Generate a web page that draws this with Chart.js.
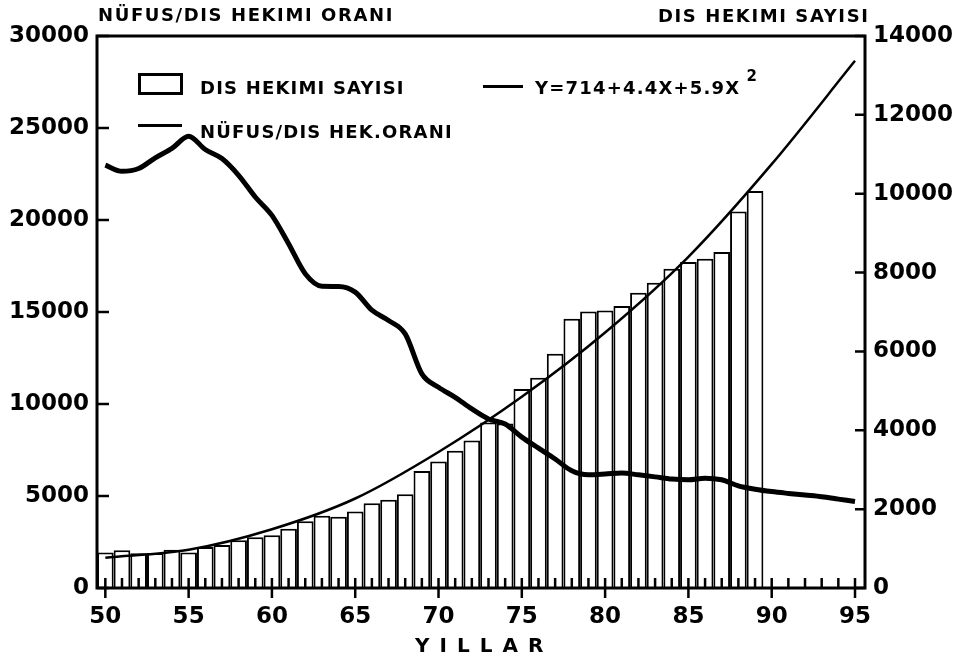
<!DOCTYPE html>
<html>
<head>
<meta charset="utf-8">
<script src="https://cdn.jsdelivr.net/npm/chart.js@4/dist/chart.umd.min.js"></script>
<style>
  html, body { margin: 0; padding: 0; background: #fff; }
  #wrap { position: relative; width: 965px; height: 661px; overflow: hidden; }
  #c { position: absolute; left: 0; top: 0; }
  .t { position: absolute; font-family: "DejaVu Sans", sans-serif; font-weight: bold; color: #000; line-height: 1; white-space: nowrap; }
  .lab { font-size: 18px; letter-spacing: 1.6px; }
  .box { position: absolute; border: 3px solid #000; box-sizing: border-box; background: #fff; }
  .ln { position: absolute; background: #000; height: 3px; }
</style>
</head>
<body>
<div id="wrap">
  <canvas id="c" width="965" height="661"></canvas>
  <div class="t lab" style="left:98px; top:6px;">NÜFUS/DIS HEKIMI ORANI</div>
  <div class="t lab" style="left:658px; top:7px;">DIS HEKIMI SAYISI</div>
  <div class="box" style="left:138px; top:73px; width:45px; height:22px;"></div>
  <div class="t lab" style="left:200px; top:79px; letter-spacing:1.2px;">DIS HEKIMI SAYISI</div>
  <div class="ln" style="left:138px; top:124px; width:44px;"></div>
  <div class="t lab" style="left:200px; top:123px; letter-spacing:1.2px;">NÜFUS/DIS HEK.ORANI</div>
  <div class="ln" style="left:483px; top:85px; width:40px;"></div>
  <div class="t lab" style="left:535px; top:79px; letter-spacing:1.2px;">Y=714+4.4X+5.9X<span style="font-size:15px; position:relative; top:-13px; margin-left:6px;">2</span></div>
  <div class="t" style="left:415px; top:635px; font-size:20px; letter-spacing:10px;">YILLAR</div>
</div>
<script>
// ---- data ----
const barYears = [50,51,52,53,54,55,56,57,58,59,60,61,62,63,64,65,66,67,68,69,70,71,72,73,74,75,76,77,78,79,80,81,82,83,84,85,86,87,88,89];
const dentistCounts = [900,960,880,890,970,900,1040,1090,1210,1290,1340,1500,1690,1830,1810,1940,2150,2240,2380,2970,3210,3480,3740,4200,4170,5050,5330,5940,6830,7010,7040,7150,7490,7740,8100,8270,8350,8520,9550,10070];
const ratioYears = [50,51,52,53,54,55,56,57,58,59,60,61,62,63,64,65,66,67,68,69,70,71,72,73,74,75,76,77,78,79,80,81,82,83,84,85,86,87,88,89,90,91,92,93,94,95];
const populationPerDentist = [22980,22650,22800,23380,23890,24550,23830,23340,22430,21250,20250,18710,17080,16400,16390,16080,15100,14540,13810,11640,10910,10360,9730,9190,8910,8200,7600,7010,6370,6150,6190,6250,6150,6040,5920,5880,5970,5880,5550,5370,5240,5140,5050,4960,4830,4700];
const fitYears = [50,55,60,65,70,75,80,85,90,95];
const fitValues = [770,970,1490,2270,3450,4850,6480,8400,10750,13370];
const xTickLabels = [50,55,60,65,70,75,80,85,90,95];
const minorTickYears = ratioYears;
const leftTicks = [0,5000,10000,15000,20000,25000,30000];
const rightTicks = [0,2000,4000,6000,8000,10000,12000,14000];

const tickFont = { family: "DejaVu Sans", weight: "bold", size: 23 };

const frameAndTicks = {
  id: 'frameAndTicks',
  afterDraw(chart) {
    const ctx = chart.ctx;
    const a = chart.chartArea;
    const sx = chart.scales.x, sl = chart.scales.yL, sr = chart.scales.yR;
    ctx.save();
    ctx.strokeStyle = '#000';
    ctx.lineWidth = 3;
    ctx.strokeRect(a.left, a.top, a.right - a.left, a.bottom - a.top);
    ctx.lineWidth = 2.5;
    ctx.beginPath();
    minorTickYears.forEach(v => {
      const px = sx.getPixelForValue(v);
      ctx.moveTo(px, a.bottom); ctx.lineTo(px, a.bottom - 10);
    });
    xTickLabels.forEach(v => {
      const px = sx.getPixelForValue(v);
      ctx.moveTo(px, a.bottom - 10); ctx.lineTo(px, a.bottom + 10);
    });
    leftTicks.forEach(v => {
      const py = sl.getPixelForValue(v);
      ctx.moveTo(a.left, py); ctx.lineTo(a.left + 12, py);
    });
    rightTicks.forEach(v => {
      const py = sr.getPixelForValue(v);
      ctx.moveTo(a.right, py); ctx.lineTo(a.right - 10, py);
    });
    ctx.stroke();
    ctx.restore();
  }
};

new Chart(document.getElementById('c'), {
  type: 'bar',
  data: {
    datasets: [
      {
        type: 'line',
        label: 'NÜFUS/DIS HEK.ORANI',
        data: ratioYears.map((x, i) => ({ x: x, y: populationPerDentist[i] })),
        yAxisID: 'yL',
        borderColor: '#000',
        borderWidth: 5,
        pointRadius: 0,
        cubicInterpolationMode: 'monotone',
        fill: false,
        order: 1
      },
      {
        type: 'line',
        label: 'Y=714+4.4X+5.9X²',
        data: fitYears.map((x, i) => ({ x: x, y: fitValues[i] })),
        yAxisID: 'yR',
        borderColor: '#000',
        borderWidth: 2.5,
        pointRadius: 0,
        cubicInterpolationMode: 'monotone',
        fill: false,
        order: 2
      },
      {
        type: 'bar',
        label: 'DIS HEKIMI SAYISI',
        data: barYears.map((x, i) => ({ x: x, y: dentistCounts[i] })),
        yAxisID: 'yR',
        backgroundColor: '#fff',
        borderColor: '#000',
        borderWidth: 2,
        borderSkipped: 'bottom',
        inflateAmount: 0,
        barPercentage: 1,
        categoryPercentage: 1,
        order: 3
      }
    ]
  },
  options: {
    responsive: false,
    animation: false,
    layout: { padding: { top: 36, left: 0, right: 0, bottom: 0 } },
    plugins: { legend: { display: false }, tooltip: { enabled: false }, title: { display: false } },
    scales: {
      x: {
        type: 'linear',
        min: 49.5,
        max: 95.6,
        offset: false,
        grid: { display: false, drawTicks: false },
        border: { display: false },
        afterBuildTicks: s => { s.ticks = xTickLabels.map(v => ({ value: v })); },
        afterFit: s => { s.height = 73; },
        ticks: { padding: 15, color: '#000', font: tickFont, maxRotation: 0, autoSkip: false, callback: v => String(v) }
      },
      yL: {
        position: 'left',
        min: 0,
        max: 30000,
        grid: { display: false, drawTicks: false },
        border: { display: false },
        afterBuildTicks: s => { s.ticks = leftTicks.map(v => ({ value: v })); },
        afterFit: s => { s.width = 97; },
        ticks: { padding: 8, color: '#000', font: tickFont, callback: v => String(v) }
      },
      yR: {
        position: 'right',
        min: 0,
        max: 14000,
        grid: { display: false, drawTicks: false },
        border: { display: false },
        afterBuildTicks: s => { s.ticks = rightTicks.map(v => ({ value: v })); },
        afterFit: s => { s.width = 100; },
        ticks: { padding: 8, color: '#000', font: tickFont, callback: v => String(v) }
      }
    }
  },
  plugins: [frameAndTicks]
});
</script>
</body>
</html>
